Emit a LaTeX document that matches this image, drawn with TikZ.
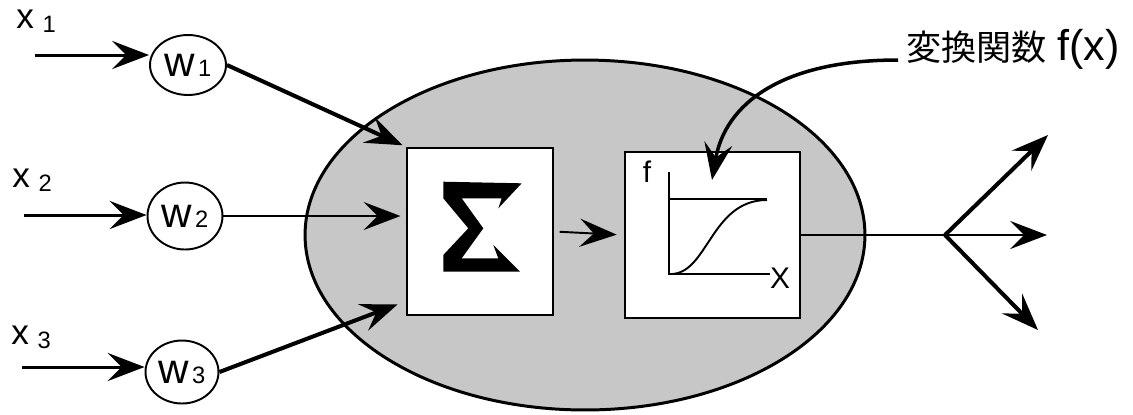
\documentclass[tikz,border=0pt]{standalone}
\usepackage{fontspec}
\setmainfont{Liberation Sans}
\newfontfamily\cjk{Noto Sans CJK JP}
\usetikzlibrary{shapes.geometric,arrows.meta}
\tikzset{
  tipA/.style={-{Stealth[length=21pt,width=16pt,inset=8pt]}},
  wnode/.style={ellipse,draw,line width=1.1pt,fill=white,inner sep=0pt},
  boxnode/.style={rectangle,draw,line width=1.5pt,fill=white,inner sep=0pt},
  heavy/.style={line width=2.3pt},
  medium/.style={line width=1.7pt},
  light/.style={line width=1.1pt},
  lbl/.style={inner sep=0pt,anchor=base west}
}
\newcommand{\wlab}[1]{{\fontsize{24pt}{24pt}\selectfont w}\,{\fontsize{13.5pt}{14pt}\selectfont #1}}
\newcommand{\xlab}[1]{{\fontsize{20pt}{20pt}\selectfont x}\hspace{5pt}\raisebox{-2.5pt}{\fontsize{13.5pt}{14pt}\selectfont #1}}
\begin{document}
\begin{tikzpicture}[x=0.02cm,y=-0.02cm]
\useasboundingbox (0,0) rectangle (1133,414);
% cell body
\node[ellipse,draw,line width=1.7pt,fill=black!22,minimum width=11.2cm,minimum height=7cm,inner sep=0pt] (cell) at (585,235) {};
% boxes
\node[boxnode,minimum width=2.92cm,minimum height=3.34cm] (sig) at (480,231.5) {};
\node[boxnode,minimum width=3.5cm,minimum height=3.32cm] (fbox) at (712.5,235) {};
% sigma glyph
\fill (443.3,181.7) -- (521.7,183.3) -- (498.3,208.3) -- (501.7,198.3) -- (461.7,198.3)
  -- (483.3,228.3) -- (461.7,258.3) -- (498.3,258.3) -- (493.3,245) -- (520,271.7)
  -- (443.3,271.7) -- (443.3,255) -- (468.3,228.3) -- (443.3,198.3) -- cycle;
% graph inside fbox
\coordinate (org) at (669,274);
\coordinate (ytop) at (669,172);
\coordinate (xend) at (770,274);
\coordinate (asl) at (669,199);
\coordinate (asr) at (767,199);
\coordinate (cend) at (767,200);
\draw[line width=0.9pt] (ytop) -- (org) -- (xend);
\draw[line width=0.9pt] (asl) -- (asr);
\draw[line width=1.1pt] (org) .. controls (708,276) and (710,200) .. (cend);
\node[inner sep=0pt] (flab) at (647,172) {\fontsize{17pt}{17pt}\selectfont f};
\node[inner sep=0pt] (xlab) at (780,278) {\fontsize{17pt}{17pt}\selectfont X};
% weights
\node[wnode,minimum width=1.52cm,minimum height=1.2cm] (w1) at (188,65) {\wlab{1}};
\node[wnode,minimum width=1.5cm,minimum height=1.34cm] (w2) at (185,216) {\wlab{2}};
\node[wnode,minimum width=1.46cm,minimum height=1.26cm] (w3) at (182,372) {\wlab{3}};
% input labels
\node[lbl] (x1) at (16,28) {\xlab{1}};
\node[lbl] (x2) at (12,187) {\xlab{2}};
\node[lbl] (x3) at (11,344) {\xlab{3}};
% input arrows
\coordinate (i1) at (35,55);
\coordinate (i2) at (24,215);
\coordinate (i3) at (22,367);
\draw[medium,tipA] (i1) -- (i1 -| w1.west);
\draw[medium,tipA] (i2) -- (i2 -| w2.west);
\draw[medium,tipA] (i3) -- (i3 -| w3.west);
% weights to sum
\draw[heavy,tipA,shorten >=2pt] (w1.east) -- (sig.north west);
\draw[light,tipA,shorten >=3pt] (w2.east) -- (sig.west |- w2.east);
\draw[heavy,tipA] (w3.east) -- ([shift={(-8,-12)}]sig.south west);
% sum to f
\draw[light,tipA,shorten <=3pt,shorten >=4pt] (sig.east) -- (fbox.west);
% outputs
\coordinate (br) at (945,235);
\coordinate (o1) at (1048,135);
\coordinate (o2) at (1047,235);
\coordinate (o3) at (1038,330);
\draw[light] (fbox.east) -- (br);
\draw[heavy,tipA] (br) -- (o1);
\draw[light,tipA] (br) -- (o2);
\draw[heavy,tipA] (br) -- (o3);
% annotation
\node[inner sep=0pt,anchor=base west] (title) at (906,60) {{\cjk\fontsize{20pt}{20pt}\selectfont 変換関数}\hspace{6pt}{\fontsize{24.5pt}{24pt}\selectfont f(x)}};
\coordinate (fstart) at (898,60);
\coordinate (ftip) at (712,180);
\draw[line width=2pt,tipA] (fstart) .. controls (780,60) and (725,105) .. (ftip);
\end{tikzpicture}
\end{document}
